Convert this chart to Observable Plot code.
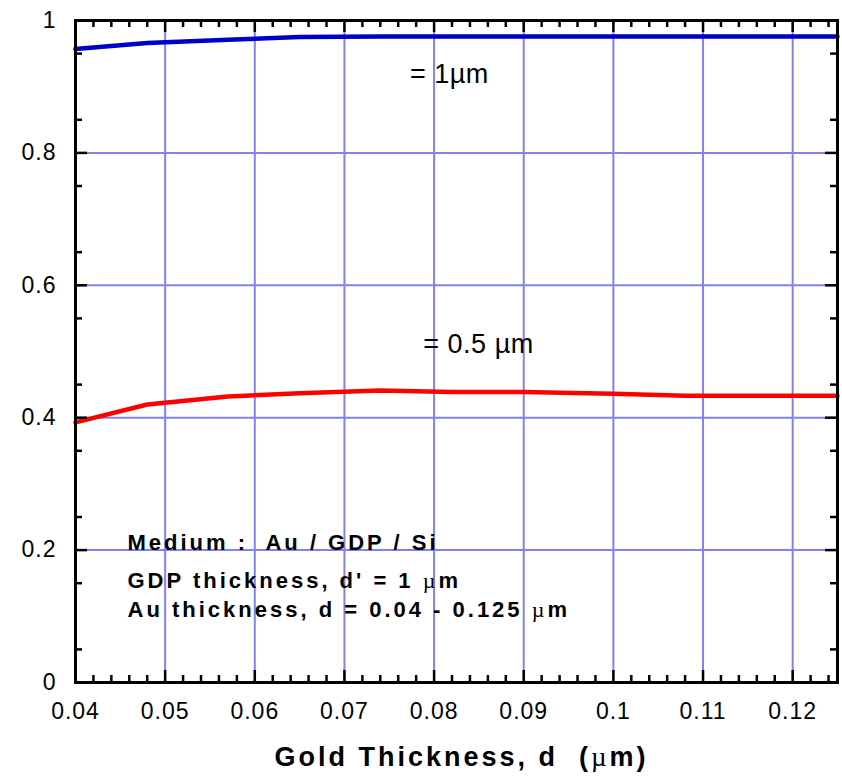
<!DOCTYPE html>
<html>
<head>
<meta charset="utf-8">
<script src="https://cdn.jsdelivr.net/npm/d3@7"></script>
<script src="https://cdn.jsdelivr.net/npm/@observablehq/plot@0.6"></script>
<style>
  html, body { margin: 0; padding: 0; background: #fff; }
  svg { display: block; }
</style>
</head>
<body>
<div id="chart"></div>
<script>
// ---- data ----
const goldThickness = [0.04, 0.048, 0.057, 0.065, 0.074, 0.082, 0.09, 0.1, 0.108, 0.116, 0.125];
const reflect1um    = [0.957, 0.966, 0.971, 0.975, 0.976, 0.976, 0.976, 0.976, 0.976, 0.976, 0.976];
const reflect05um   = [0.393, 0.420, 0.432, 0.437, 0.441, 0.439, 0.439, 0.436, 0.433, 0.433, 0.433];

const xTicks      = [0.04, 0.05, 0.06, 0.07, 0.08, 0.09, 0.1, 0.11, 0.12];
const xTickLabels = ["0.04", "0.05", "0.06", "0.07", "0.08", "0.09", "0.1", "0.11", "0.12"];
const yTicks      = [0, 0.2, 0.4, 0.6, 0.8, 1];
const yTickLabels = ["0", "0.2", "0.4", "0.6", "0.8", "1"];
const xMinor = d3.range(40, 126, 2).map(v => v / 1000).filter(v => Math.round(v * 1000) % 10 !== 0);
const yMinor = d3.range(5, 100, 10).map(v => v / 100);

const curveLabels = [
  {x: 0.0773, y: 0.905, text: "= 1µm"},
  {x: 0.0788, y: 0.497, text: "= 0.5 µm"}
];
const infoLines = [
  {x: 0.0458, y: 0.1994, text: "Medium :  Au / GDP / Si"},
  {x: 0.0458, y: 0.1435, text: "GDP thickness, d' = 1 µm"},
  {x: 0.0458, y: 0.0982, text: "Au thickness, d = 0.04 - 0.125 µm"}
];
const xTitle = "Gold Thickness, d  (µm)";

// ---- layout ----
const W = 842, H = 779;
const mL = 75, mR = 5, mT = 20, mB = 97;
const fW = W - mL - mR, fH = H - mT - mB;
const major = 12, minor = 7;

const blueData = goldThickness.map((x, i) => ({x, y: reflect1um[i]}));
const redData  = goldThickness.map((x, i) => ({x, y: reflect05um[i]}));

const gridColor = "#8282ee";
const font = "Liberation Sans, Arial, Helvetica, sans-serif";

const plot = Plot.plot({
  width: W, height: H,
  marginLeft: mL, marginRight: mR, marginTop: mT, marginBottom: mB,
  style: {fontFamily: font, background: "#fff", overflow: "visible"},
  x: {domain: [0.04, 0.125], ticks: xTicks, tickFormat: d => xTickLabels[xTicks.indexOf(d)]},
  y: {domain: [0, 1], ticks: yTicks, tickFormat: d => yTickLabels[yTicks.indexOf(d)]},
  marks: [
    Plot.gridX(xTicks.slice(1), {stroke: gridColor, strokeOpacity: 1, strokeWidth: 2}),
    Plot.gridY(yTicks.slice(1, -1), {stroke: gridColor, strokeOpacity: 1, strokeWidth: 2}),
    Plot.line(blueData, {x: "x", y: "y", stroke: "#0000cc", strokeWidth: 4.5}),
    Plot.line(redData, {x: "x", y: "y", stroke: "#ff0000", strokeWidth: 4.5}),
    // inward ticks: bottom / top
    Plot.tickX(xTicks, {x: d => d, stroke: "#000", strokeWidth: 2.5, insetTop: fH - major}),
    Plot.tickX(xTicks, {x: d => d, stroke: "#000", strokeWidth: 2.5, insetBottom: fH - major}),
    Plot.tickX(xMinor, {x: d => d, stroke: "#000", strokeWidth: 2.5, insetTop: fH - minor}),
    Plot.tickX(xMinor, {x: d => d, stroke: "#000", strokeWidth: 2.5, insetBottom: fH - minor}),
    // inward ticks: left / right
    Plot.tickY(yTicks, {y: d => d, stroke: "#000", strokeWidth: 2.5, insetRight: fW - major}),
    Plot.tickY(yTicks, {y: d => d, stroke: "#000", strokeWidth: 2.5, insetLeft: fW - major}),
    Plot.tickY(yMinor, {y: d => d, stroke: "#000", strokeWidth: 2.5, insetRight: fW - minor}),
    Plot.tickY(yMinor, {y: d => d, stroke: "#000", strokeWidth: 2.5, insetLeft: fW - minor}),
    Plot.frame({stroke: "#000", strokeWidth: 3}),
    Plot.axisX({ticks: xTicks, tickSize: 0, tickPadding: 20, fontSize: 23, label: null, fill: "#000",
                tickFormat: d => xTickLabels[xTicks.indexOf(d)]}),
    Plot.axisY({ticks: yTicks, tickSize: 0, tickPadding: 19, fontSize: 23, label: null, fill: "#000",
                tickFormat: d => yTickLabels[yTicks.indexOf(d)]}),
    Plot.text(curveLabels, {x: "x", y: "y", text: "text", textAnchor: "start", lineAnchor: "bottom",
                            fontSize: 27, fill: "#000", className: "curvelab"}),
    Plot.text(infoLines, {x: "x", y: "y", text: "text", textAnchor: "start", lineAnchor: "bottom",
                          fontSize: 22, fontWeight: "bold", fill: "#000", className: "boldmu info"}),
    Plot.text([xTitle], {text: d => d, frameAnchor: "bottom", dy: 83, dx: 5, fontSize: 27,
                         fontWeight: "bold", fill: "#000", className: "boldmu xtitle"})
  ]
});

// letter spacing on texts
d3.select(plot).selectAll("g[aria-label='x-axis tick label'] text, g[aria-label='y-axis tick label'] text")
  .style("letter-spacing", "1px");
d3.select(plot).selectAll(".info text").style("letter-spacing", "3px");
d3.select(plot).selectAll(".xtitle text").style("letter-spacing", "3px");
d3.select(plot).selectAll(".curvelab text").style("letter-spacing", "0.5px");

// render µ in bold strings in a regular serif face (as in the reference)
d3.select(plot).selectAll(".boldmu text").each(function() {
  const t = this.textContent;
  if (!t.includes("µ")) return;
  const parts = t.split("µ");
  this.textContent = "";
  parts.forEach((p, i) => {
    if (i > 0) {
      const s = document.createElementNS("http://www.w3.org/2000/svg", "tspan");
      s.setAttribute("font-weight", "normal");
      s.setAttribute("font-family", "Liberation Serif, Times New Roman, serif");
      s.textContent = "µ";
      this.appendChild(s);
    }
    if (p) {
      const s = document.createElementNS("http://www.w3.org/2000/svg", "tspan");
      s.textContent = p;
      this.appendChild(s);
    }
  });
});

document.getElementById("chart").appendChild(plot);
</script>
</body>
</html>
